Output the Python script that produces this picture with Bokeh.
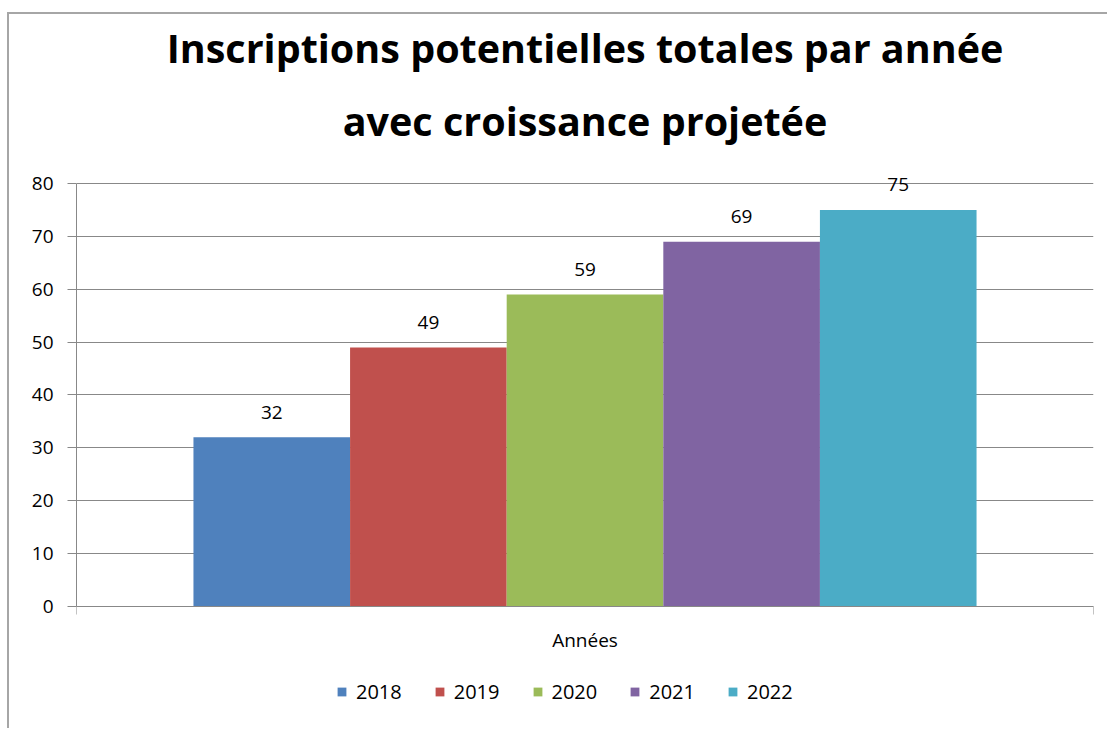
from bokeh.plotting import figure
from bokeh.models import (Range1d, FixedTicker, Title, Legend, LegendItem, ColumnDataSource)
from bokeh.core.properties import value
from bokeh.embed import file_html
from bokeh.resources import INLINE

# ---- data ----
category = ["Années"]
years = ["2018", "2019", "2020", "2021", "2022"]
values = [32, 49, 59, 69, 75]
colors = ["#4F81BD", "#C0504D", "#9BBB59", "#8064A2", "#4BACC6"]
y_ticks = [0, 10, 20, 30, 40, 50, 60, 70, 80]
title_lines = ["Inscriptions potentielles totales par année", "avec croissance projetée"]

FONT = "Open Sans"
GRID = "#888888"
FS = "19px"

# frame extends a little above 80 and below 0 so labels / legend are not clipped
Y_MAX = 80
Y_TOP = 83.4
Y_BOTTOM = -19.67

p = figure(width=1100, height=716, x_range=Range1d(0, 1),
           y_range=Range1d(Y_BOTTOM, Y_TOP), x_axis_location="below", y_axis_location="left",
           output_backend="svg", toolbar_location=None,
           min_border_left=67, min_border_right=16, min_border_top=151, min_border_bottom=20)
p.styles = {"margin-left": "7px", "margin-top": "12px",
            "border-left": "2px solid #a6a6a6", "border-top": "2px solid #a6a6a6"}
p.outline_line_color = None
p.background_fill_color = "white"
p.border_fill_color = "white"

# titles (last added is outermost)
p.add_layout(Title(text=title_lines[1], align="center", text_font=FONT, text_font_style="bold",
                   text_font_size="39.5px", text_color="black", standoff=35), "above")
p.add_layout(Title(text=title_lines[0], align="center", text_font=FONT, text_font_style="bold",
                   text_font_size="39.5px", text_color="black", standoff=0,
                   text_line_height=0.8), "above")

# y axis
yax = p.yaxis[0]
yax.ticker = FixedTicker(ticks=y_ticks)
yax.bounds = (0, Y_MAX)
yax.axis_line_color = GRID
yax.major_tick_line_color = GRID
yax.major_tick_out = 9
yax.major_tick_in = 0
yax.minor_tick_line_color = None
yax.major_label_text_font = FONT
yax.major_label_text_font_size = FS
yax.major_label_text_color = "black"
yax.major_label_standoff = 14
p.ygrid.ticker = FixedTicker(ticks=y_ticks)
p.ygrid.grid_line_color = GRID
p.xgrid.grid_line_color = None

# x axis: one category, ticks at its boundaries, sitting at y = 0
xax = p.xaxis[0]
xax.fixed_location = 0
xax.ticker = FixedTicker(ticks=[0, 1])
xax.major_label_overrides = {0: "", 1: ""}
xax.major_label_text_font_size = "1px"
xax.major_label_standoff = 0
xax.axis_line_color = GRID
xax.major_tick_line_color = GRID
xax.major_tick_out = 8
xax.major_tick_in = 0
xax.minor_tick_line_color = None

# bars
n = len(years)
w = 0.154
centers = [0.5 + (i - (n - 1) / 2) * w for i in range(n)]
renderers = []
for i, (yr, v, c) in enumerate(zip(years, values, colors)):
    src = ColumnDataSource(dict(x=[centers[i]], top=[v], lab=[str(v)]))
    r = p.vbar(x="x", top="top", width=w, source=src, fill_color=c, line_color=None)
    p.text(x="x", y="top", text="lab", source=src,
           text_align="center", text_baseline="middle", y_offset=-25,
           text_font=value(FONT), text_font_size=FS, text_color="black")
    renderers.append((yr, r))

# category label under the group
cat_src = ColumnDataSource(dict(x=[sum(centers) / n], y=[0], t=category))
p.text(x="x", y="y", text="t", source=cat_src, text_align="center", text_baseline="middle",
       y_offset=34, text_font=value(FONT), text_font_size=FS, text_color="black")

legend = Legend(items=[LegendItem(label=yr, renderers=[r]) for yr, r in renderers],
                orientation="horizontal", location=(260, 5),
                label_text_font=FONT, label_text_font_size="20px", label_text_color="black",
                glyph_width=11, glyph_height=11, spacing=32, label_standoff=9,
                border_line_color=None, background_fill_alpha=0, margin=0, padding=0)
p.add_layout(legend, "center")

open("out.html", "w").write(file_html(p, INLINE))
